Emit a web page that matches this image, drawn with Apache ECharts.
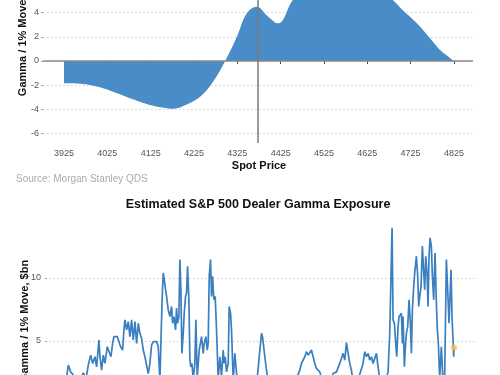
<!DOCTYPE html>
<html><head><meta charset="utf-8">
<script src="https://cdn.jsdelivr.net/npm/echarts@6/dist/echarts.min.js"></script>
<style>html,body{margin:0;padding:0;width:500px;height:375px;overflow:hidden;background:#fff}
#c{position:absolute;left:0;top:-60px;width:500px;height:520px}</style>
</head><body><div id="c"></div>
<script>
// Top chart: dealer gamma profile vs spot price
const spot = [3925,3969,4008,4047,4084,4123,4163,4177,4200,4239,4269,4297,4324,4347,4370,4395,4419,4453,4475,4500,4525,4550,4575,4600,4625,4650,4684,4707,4740,4770,4793,4816,4825];
const gammaProfile = [-1.84,-1.9,-2.18,-2.67,-3.17,-3.64,-3.91,-3.95,-3.72,-2.95,-1.71,0,2.0,3.94,4.49,3.7,3.11,5.04,5.8,6.5,7.0,7.3,7.4,7.2,6.8,6.1,5.04,4.2,3.1,1.87,0.9,0.25,0];
const spotTicks = [3925,4025,4125,4225,4325,4425,4525,4625,4725,4825];
const profileTicks = [-6,-4,-2,0,2,4,6,8];
const currentSpot = 4373;

// Bottom chart: estimated S&P 500 dealer gamma exposure over time (trading days)
const days = [0,10,20,30,40,50,58,64,67,71,77,84,91,99,109,117,124,131,137,144,149,156,159,164,169,174,181,187,192,197,201,206,211,216,221,227,231,234,239,244,249,254,259,264,269,274,279,284,289,294,299,304,309,314,319,324,329,334,339,343,346,349,352,356,359,364,369,374,377,381,386,389,392,396,399,402,405,409,412,416,419,422,426,429,432,435,439,444,447,451,457,464,469,472,477,481,484,487,491,494,497,501,505,509,514,519,524,529,532,535,539,544,547,551,554,559,564,569,579,589,599,609,620,630,639,644,647,654,659,665,680,700,720,740,759,764,769,774,779,784,789,794,799,804,809,819,830,845,859,869,879,889,894,899,904,909,914,920,935,949,954,959,964,969,974,979,984,989,994,1000,1010,1024,1029,1033,1036,1039,1043,1047,1050,1054,1057,1061,1064,1067,1069,1073,1076,1079,1083,1087,1091,1094,1097,1101,1104,1107,1109,1113,1116,1119,1123,1127,1130,1134,1137,1141,1144,1147,1150,1154,1157,1161,1165,1169,1172,1175,1179,1184,1189,1194,1199,1203,1207,1209,1213,1216,1219,1221,1222];
const exposure = [1.2,0.6,1.5,0.9,1.8,1.1,2.0,3.09,3.2,2.55,2.37,2.0,2.2,1.8,2.47,2.0,3.09,3.88,3.22,3.75,2.95,5.08,3.75,2.69,3.88,3.22,4.55,4.41,3.75,4.81,5.35,5.48,5.35,5.48,4.55,4.28,5.88,6.68,5.88,6.54,5.35,6.68,5.08,6.54,4.81,6.41,5.61,5.21,4.28,3.75,3.09,2.42,3.22,4.68,4.95,4.95,4.95,4.55,1.8,5.88,8.54,10.4,9.87,9.07,8.54,7.47,6.94,7.74,6.41,6.94,5.88,7.61,6.41,6.94,11.46,9.07,4.02,5.61,7.21,8.54,8.8,10.93,8.27,3.48,2.95,3.22,2.0,3.22,6.68,2.1,4.28,5.35,4.02,4.81,5.35,4.28,4.81,10.13,11.46,8.54,10.13,8.27,8.54,5.88,2.0,3.75,2.2,4.28,3.22,3.75,2.55,3.22,7.74,7.21,5.88,1.9,4.02,2.42,1.5,1.8,2.0,1.6,2.1,1.7,4.28,5.61,5.35,3.75,2.69,1.5,0.8,1.2,0.5,1.4,2.69,3.22,3.09,3.75,4.15,3.88,3.75,4.28,4.34,3.22,2.82,2.55,1.5,1.0,2.42,2.55,3.22,4.02,3.48,4.87,4.02,3.22,2.69,1.5,2.0,3.22,4.15,3.75,4.02,3.48,3.75,3.22,3.62,4.02,2.95,1.8,1.2,2.55,5.61,10.4,13.99,6.68,6.41,4.81,3.75,6.14,6.94,6.94,7.21,4.81,6.94,2.95,4.55,5.61,6.14,8.27,6.41,4.02,7.47,9.34,10.4,11.2,11.73,10.13,7.74,8.54,9.34,12.53,10.93,9.07,11.73,10.4,7.74,11.73,13.19,12.53,10.13,8.27,11.99,8.01,5.88,4.81,2.0,4.55,1.8,2.2,11.46,9.07,6.41,7.74,10.66,6.94,5.08,3.75,4.49];
const exposureTicks = [0,5,10];

const lineData = days.map((d,i)=>[d, exposure[i]]);
const areaData = spot.map((s,i)=>[s, gammaProfile[i]]);
const last = lineData[lineData.length-1];

const chart = echarts.init(document.getElementById('c'), null, {renderer:'canvas'});
const lblStyle = {color:'#555', fontSize:9, fontFamily:'Liberation Sans, Arial, sans-serif', formatter:(v)=>String(v)};
const split = {show:true, lineStyle:{color:'#cfcfcf', type:[1.5,2.5], width:1}};
chart.setOption({
  animation:false,
  backgroundColor:'#fff',
  grid:[
    {left:43, right:27, top:24.2, height:178.8, containLabel:false},
    {left:45, right:25, top:281.3, height:182.7, containLabel:false}
  ],
  xAxis:[
    {type:'value', gridIndex:0, min:3876.5, max:4869,
     axisLine:{show:false},
     axisTick:{show:true, length:3, lineStyle:{color:'#444'}, customValues:spotTicks},
     axisLabel:{...lblStyle, margin:6, customValues:spotTicks},
     splitLine:{show:false}},
    {type:'value', gridIndex:1, min:-6, max:1285, show:false, splitLine:{show:false}}
  ],
  yAxis:[
    {type:'value', gridIndex:0, min:-6.78, max:8,
     axisLine:{show:false},
     axisTick:{show:true, length:2, lineStyle:{color:'#999'}, customValues:profileTicks},
     axisLabel:{...lblStyle, margin:4, customValues:profileTicks},
     splitLine:split},
    {type:'value', gridIndex:1, min:0, max:14.5,
     axisLine:{show:false},
     axisTick:{show:true, length:2, lineStyle:{color:'#999'}, customValues:exposureTicks},
     axisLabel:{...lblStyle, margin:4, customValues:exposureTicks},
     splitLine:split}
  ],
  series:[
    {type:'line', xAxisIndex:0, yAxisIndex:0, data:areaData, smooth:0.4, symbol:'none',
     lineStyle:{width:0}, areaStyle:{color:'#4a8cc8', opacity:1},
     markLine:{silent:true, symbol:'none', label:{show:false},
       data:[{yAxis:0, lineStyle:{color:'#8a8a8a', width:1.5, type:'solid'}},
             {xAxis:currentSpot, lineStyle:{color:'#7a7a7a', width:1.5, type:'solid'}}]}},
    {type:'line', xAxisIndex:1, yAxisIndex:1, data:lineData, symbol:'none',
     lineStyle:{color:'#3a7fc0', width:1.7}},
    {type:'scatter', xAxisIndex:1, yAxisIndex:1, data:[last], symbolSize:6,
     itemStyle:{color:'#f2c14e'}, z:5}
  ],
  graphic:[
    {type:'text', x:259, y:226, style:{text:'Spot Price', fill:'#111', font:'bold 11px Liberation Sans, Arial, sans-serif', align:'center', verticalAlign:'middle'}},
    {type:'text', x:16, y:239, style:{text:'Source: Morgan Stanley QDS', fill:'#aaa', font:'10px Liberation Sans, Arial, sans-serif', align:'left', verticalAlign:'middle'}},
    {type:'text', x:258, y:265, style:{text:'Estimated S&P 500 Dealer Gamma Exposure', fill:'#111', font:'bold 12.5px Liberation Sans, Arial, sans-serif', align:'center', verticalAlign:'middle'}},
    {type:'text', x:23, y:95, rotation:Math.PI/2, style:{text:'Gamma / 1% Move, $bn', fill:'#111', font:'bold 11px Liberation Sans, Arial, sans-serif', align:'center', verticalAlign:'middle'}},
    {type:'text', x:25, y:381, rotation:Math.PI/2, style:{text:'Gamma / 1% Move, $bn', fill:'#111', font:'bold 11px Liberation Sans, Arial, sans-serif', align:'center', verticalAlign:'middle'}}
  ]
});
</script></body></html>
